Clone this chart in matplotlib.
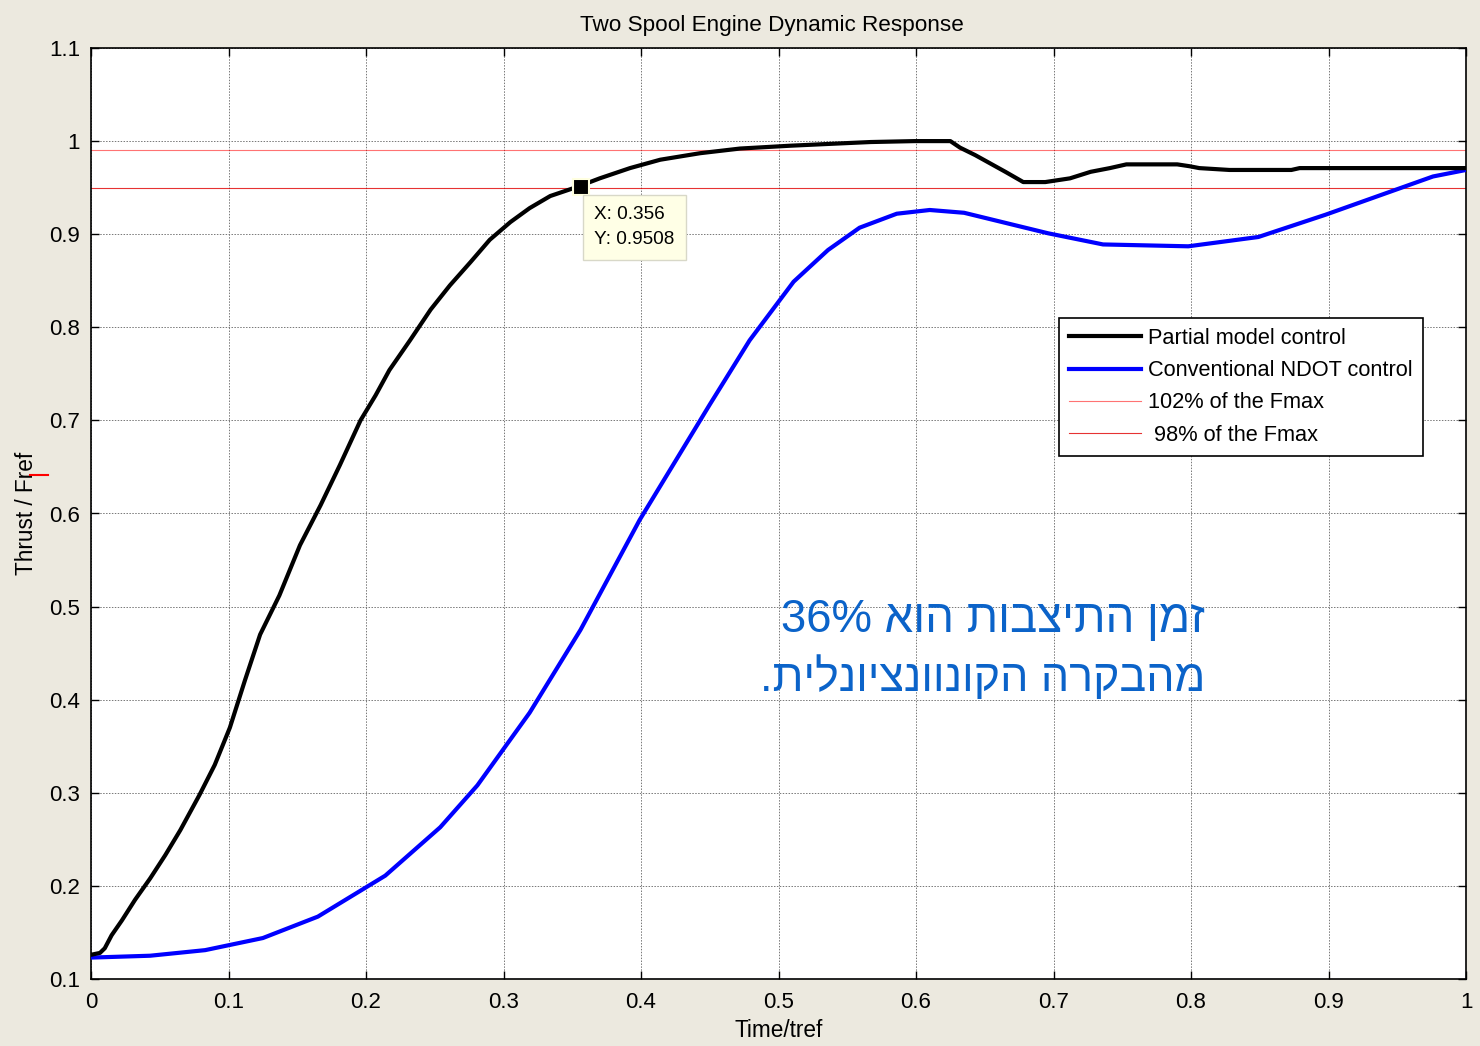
import matplotlib
matplotlib.use("Agg")
import matplotlib.pyplot as plt
from matplotlib.lines import Line2D

# ---- data ----
t_partial = [0.0, 0.0065, 0.010, 0.015, 0.0225, 0.032, 0.043, 0.054, 0.065, 0.079, 0.090,
             0.101, 0.112, 0.123, 0.137, 0.152, 0.167, 0.181, 0.196, 0.207, 0.217, 0.232,
             0.247, 0.261, 0.276, 0.290, 0.305, 0.319, 0.334, 0.354, 0.370, 0.392, 0.414,
             0.443, 0.472, 0.508, 0.537, 0.567, 0.599, 0.625, 0.632, 0.643, 0.654, 0.665,
             0.678, 0.694, 0.712, 0.727, 0.741, 0.753, 0.790, 0.799, 0.806, 0.828, 0.873,
             0.879, 1.0]
y_partial = [0.126, 0.128, 0.133, 0.147, 0.163, 0.185, 0.208, 0.233, 0.260, 0.298, 0.330,
             0.370, 0.421, 0.470, 0.512, 0.566, 0.609, 0.652, 0.700, 0.727, 0.754, 0.786,
             0.819, 0.845, 0.870, 0.894, 0.913, 0.928, 0.941, 0.951, 0.960, 0.971, 0.980,
             0.987, 0.992, 0.995, 0.997, 0.999, 1.000, 1.000, 0.993, 0.985, 0.976, 0.967,
             0.956, 0.956, 0.960, 0.967, 0.971, 0.975, 0.975, 0.973, 0.971, 0.969, 0.969,
             0.971, 0.971]

t_conv = [0.0, 0.043, 0.083, 0.125, 0.165, 0.214, 0.254, 0.281, 0.319, 0.356, 0.399,
          0.450, 0.479, 0.511, 0.536, 0.559, 0.586, 0.610, 0.635, 0.696, 0.736, 0.798,
          0.849, 0.898, 0.976, 1.0]
y_conv = [0.123, 0.125, 0.131, 0.144, 0.167, 0.211, 0.263, 0.308, 0.386, 0.475, 0.593,
          0.717, 0.786, 0.849, 0.883, 0.907, 0.922, 0.926, 0.923, 0.901, 0.889, 0.887,
          0.897, 0.921, 0.962, 0.969]

level_high = 0.99
level_low = 0.95
tip_x, tip_y = 0.356, 0.9508

legend_labels = ["Partial model control", "Conventional NDOT control",
                 "102% of the Fmax", " 98% of the Fmax"]
x_ticks = [0, 0.1, 0.2, 0.3, 0.4, 0.5, 0.6, 0.7, 0.8, 0.9, 1]
x_ticklabels = ["0", "0.1", "0.2", "0.3", "0.4", "0.5", "0.6", "0.7", "0.8", "0.9", "1"]
y_ticks = [0.1, 0.2, 0.3, 0.4, 0.5, 0.6, 0.7, 0.8, 0.9, 1.0, 1.1]
y_ticklabels = ["0.1", "0.2", "0.3", "0.4", "0.5", "0.6", "0.7", "0.8", "0.9", "1", "1.1"]

heb_line1 = "זמן התיצבות הוא"
heb_line2 = "מהבקרה הקונוונציונלית"

plt.rcParams['font.family'] = ['Liberation Sans', 'DejaVu Sans']

bg = '#ECE9DF'
fig = plt.figure(figsize=(14.8, 10.46), dpi=100, facecolor=bg)
ax = fig.add_axes([91/1480, 1 - 979/1046, (1466-91)/1480, (979-48)/1046])
ax.set_facecolor('white')

ax.grid(True, color='#777777', linestyle=(0, (1.5, 1.5)), linewidth=0.7)
ax.set_axisbelow(True)

ax.plot(t_partial, y_partial, color='black', lw=3, label=legend_labels[0], zorder=4)
ax.plot(t_conv, y_conv, color='#0000FF', lw=3, label=legend_labels[1], zorder=3)
ax.axhline(level_high, color='#FF0000', lw=0.8, alpha=0.55, label=legend_labels[2], zorder=2)
ax.axhline(level_low, color='#E00000', lw=0.8, alpha=0.8, label=legend_labels[3], zorder=2)

ax.set_xlim(0, 1)
ax.set_ylim(0.1, 1.1)
ax.set_xticks(x_ticks)
ax.set_xticklabels(x_ticklabels)
ax.set_yticks(y_ticks)
ax.set_yticklabels(y_ticklabels)
ax.tick_params(direction='in', length=6, width=1, top=True, right=True,
               labelsize=16, colors='black')
ax.tick_params(axis='x', pad=9)
ax.tick_params(axis='y', pad=8)
for s in ax.spines.values():
    s.set_linewidth(1.2)

ax.set_title("Two Spool Engine Dynamic Response", fontsize=16.2, pad=12, x=0.495)
ax.set_xlabel("Time/tref", fontsize=16.3, labelpad=5)
ax.set_ylabel("Thrust / Fref", fontsize=16.3, labelpad=8)

# data tip
ax.plot([tip_x], [tip_y], marker='s', markersize=11, color='black',
        markeredgecolor='#FFFFE0', markeredgewidth=1.5, zorder=6, ls='none')
ax.annotate(f"X: {tip_x}\nY: {tip_y}", xy=(tip_x, tip_y), xytext=(10, -14),
            textcoords='offset points', ha='left', va='top', fontsize=13.7,
            linespacing=1.6,
            bbox=dict(boxstyle='square,pad=0.6', fc='#FFFFE6', ec='#D8D8C8', lw=1),
            zorder=7)

leg = ax.legend(loc='upper left', bbox_to_anchor=((1059-91)/1375, 1 - (318-48)/931),
                fontsize=15.7, frameon=True, fancybox=False, edgecolor='black',
                framealpha=1, borderpad=0.45, labelspacing=0.52, handlelength=3.3,
                handletextpad=0.35, borderaxespad=0)
leg.get_frame().set_linewidth(1.2)

# Hebrew annotation (drawn in visual order, right to left)
heb_color = '#0B63C9'
ax.text((1205-91)/1375, 1 - (620-48)/931, "36% " + heb_line1[::-1],
        transform=ax.transAxes, ha='right', va='center', fontsize=32.8, color=heb_color)
ax.text((1205-91)/1375, 1 - (678-48)/931, "." + heb_line2[::-1],
        transform=ax.transAxes, ha='right', va='center', fontsize=32.2, color=heb_color)

# small red mark next to the y label
fig.add_artist(Line2D([30/1480, 48/1480], [1 - 475/1046, 1 - 475/1046],
                      color='red', lw=1.5))

fig.savefig("out.png", dpi=100, facecolor=bg)
